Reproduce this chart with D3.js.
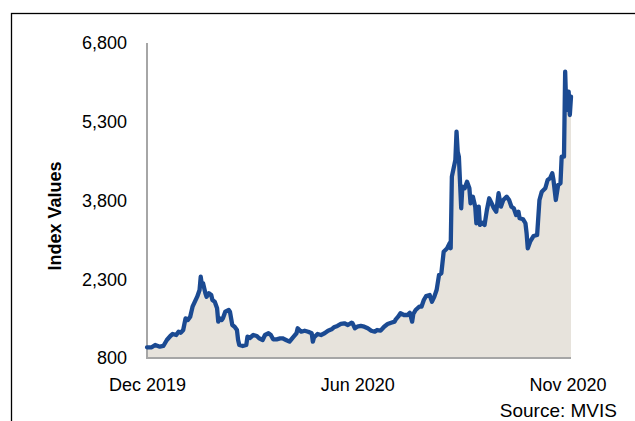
<!DOCTYPE html>
<html>
<head>
<meta charset="utf-8">
<script src="https://cdn.jsdelivr.net/npm/d3@7"></script>
<style>
  body { margin: 0; background: #fff; }
  svg { display: block; font-family: "Liberation Sans", Arial, sans-serif; }
</style>
</head>
<body>
<div id="chart"></div>
<script>
// days since 1 Dec 2019
const days = [0, 4, 7, 11, 14, 17, 20, 22, 25, 27, 29, 31, 33, 35, 37, 39, 41, 43, 45, 46,
  47, 48, 50, 51, 53, 55, 56, 58, 60, 61, 62, 64, 65, 67, 70, 71, 73, 75, 77, 78,
  79, 82, 85, 86, 88, 91, 94, 96, 99, 101, 104, 106, 108, 111, 114, 116, 119, 122, 125, 128,
  129, 132, 135, 138, 141, 142, 143, 146, 149, 152, 155, 158, 160, 163, 166, 169, 172, 175, 176, 178,
  180, 183, 186, 189, 192, 195, 197, 200, 203, 206, 209, 212, 213, 215, 217, 220, 223, 225, 227, 228,
  230, 233, 235, 237, 239, 242, 244, 246, 248, 250, 252, 254, 257, 259, 260, 261, 264, 265, 266, 267,
  269, 270, 272, 274, 276, 277, 279, 281, 282, 284, 285, 287, 289, 291, 293, 295, 297, 299, 301, 303,
  305, 308, 310, 312, 314, 316, 318, 319, 322, 324, 325, 326, 328, 331, 334, 336, 338, 341, 343, 345,
  347, 348, 350, 352, 354, 355, 357, 358, 359, 360, 361, 362, 363];

// index values
const values = [1004, 1004, 1048, 1015, 1029, 1143, 1219, 1257, 1238, 1301, 1282, 1333, 1556, 1524, 1587, 1777, 1873, 1968, 2095, 2349,
  2191, 2223, 2033, 1968, 2033, 2000, 1905, 1873, 1747, 1492, 1556, 1524, 1556, 1682, 1714, 1682, 1429, 1396, 1333, 1143,
  1048, 1029, 1048, 1206, 1181, 1238, 1219, 1175, 1143, 1238, 1271, 1238, 1156, 1156, 1175, 1175, 1143, 1111, 1194, 1271,
  1366, 1301, 1320, 1301, 1271, 1111, 1194, 1257, 1238, 1271, 1320, 1347, 1385, 1410, 1448, 1461, 1429, 1472, 1461, 1366,
  1396, 1410, 1396, 1366, 1320, 1301, 1333, 1320, 1396, 1448, 1472, 1492, 1537, 1587, 1652, 1619, 1619, 1663, 1492, 1638,
  1714, 1777, 1777, 1905, 1981, 2000, 1873, 1968, 2100, 2381, 2414, 2825, 2890, 2985, 2890, 4254, 4572, 5111, 4730, 4635,
  3652, 4063, 4033, 4159, 4033, 3747, 3873, 3682, 3366, 3682, 3334, 3377, 3334, 3619, 3842, 3747, 3652, 3587, 3938, 3682,
  3810, 3873, 3810, 3682, 3652, 3524, 3587, 3461, 3442, 3366, 3175, 2890, 3016, 3124, 3143, 3810, 3968, 4033, 4191, 4223,
  4319, 4191, 3810, 4096, 4128, 4635, 4635, 6254, 5524, 5873, 5873, 5429, 5778];

const yTicks = [800, 2300, 3800, 5300, 6800];
const xTickDays = [0, 180, 360];
const xTickLabels = ["Dec 2019", "Jun 2020", "Nov 2020"];

const startDate = new Date(2019, 11, 1);
const data = days.map((d, i) => ({date: d3.timeDay.offset(startDate, d), value: values[i]}));

const W = 635, H = 421;
const svg = d3.select("#chart").append("svg")
    .attr("width", W)
    .attr("height", H);

// outer frame (runs off the right and bottom edges)
svg.append("rect")
    .attr("x", 11.5).attr("y", 13.5)
    .attr("width", 700).attr("height", 500)
    .attr("fill", "none")
    .attr("stroke", "#000")
    .attr("stroke-width", 1.3);

const x = d3.scaleTime()
    .domain([startDate, d3.timeDay.offset(startDate, 363)])
    .range([147, 571]);

const y = d3.scaleLinear()
    .domain([800, 6800])
    .range([358, 43]);

// area under the line
const area = d3.area()
    .x(d => x(d.date))
    .y0(y(800))
    .y1(d => y(d.value));

svg.append("path")
    .datum(data)
    .attr("d", area)
    .attr("fill", "#e7e3dc");

// axes lines
svg.append("line")
    .attr("x1", 147).attr("x2", 147)
    .attr("y1", y(6800)).attr("y2", y(800) + 1)
    .attr("stroke", "#a6a6a6").attr("stroke-width", 2);
svg.append("line")
    .attr("x1", 146).attr("x2", 571)
    .attr("y1", y(800)).attr("y2", y(800))
    .attr("stroke", "#a6a6a6").attr("stroke-width", 2);

const line = d3.line()
    .x(d => x(d.date))
    .y(d => y(d.value));

svg.append("path")
    .datum(data)
    .attr("d", line)
    .attr("fill", "none")
    .attr("stroke", "#1b4a92")
    .attr("stroke-width", 4.3)
    .attr("stroke-linejoin", "round")
    .attr("stroke-linecap", "round");

// y axis labels
const yAxis = svg.append("g")
    .attr("transform", "translate(147,0)")
    .call(d3.axisLeft(y).tickValues(yTicks).tickFormat(d3.format(",")).tickSize(0).tickPadding(20));
yAxis.select(".domain").remove();
yAxis.selectAll("text")
    .attr("fill", "#000")
    .style("font-size", "18px")
    .style("font-family", "'Liberation Sans', Arial, sans-serif");

// x axis labels
const xAxis = svg.append("g")
    .attr("transform", "translate(0," + y(800) + ")")
    .call(d3.axisBottom(x)
        .tickValues(xTickDays.map(d => d3.timeDay.offset(startDate, d)))
        .tickFormat((d, i) => xTickLabels[i])
        .tickSize(0).tickPadding(20));
xAxis.select(".domain").remove();
xAxis.selectAll("text")
    .attr("fill", "#000")
    .style("font-size", "18px")
    .style("font-family", "'Liberation Sans', Arial, sans-serif");

svg.append("text")
    .attr("transform", "translate(61,216) rotate(-90)")
    .attr("text-anchor", "middle")
    .style("font-size", "18px")
    .style("font-weight", "bold")
    .text("Index Values");

svg.append("text")
    .attr("x", 617).attr("y", 417)
    .attr("text-anchor", "end")
    .style("font-size", "19px")
    .text("Source: MVIS");
</script>
</body>
</html>
